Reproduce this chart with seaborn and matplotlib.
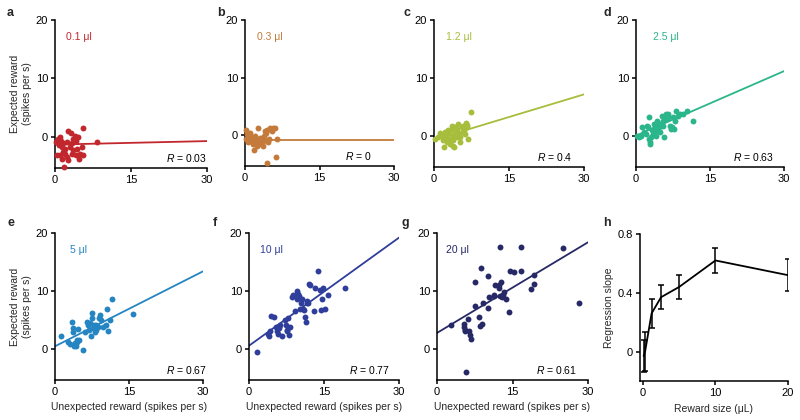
import numpy as np
import pandas as pd
import seaborn as sns
import matplotlib.pyplot as plt

# ---------------------------------------------------------------------------
# data
# ---------------------------------------------------------------------------
volumes = ["0.1", "0.3", "1.2", "2.5", "5", "10", "20"]
colors = ["#C1272D", "#C47A3A", "#A6BE3C", "#2AB58A", "#2585C2", "#2F3E9B", "#262966"]
r_values = ["0.03", "0", "0.4", "0.63", "0.67", "0.77", "0.61"]
intercepts = [-1.3, -0.8, -0.6, 0.1, 0.5, 0.6, 2.8]
slopes = [0.02, 0.0, 0.26, 0.37, 0.43, 0.62, 0.52]

a_x = [0.2, 0.5, 0.9, 1.1, 0.7, 1.3, 1.6, 2.0, 2.3, 2.6, 3.1, 3.0, 3.3, 3.6, 1.5, 2.0, 2.3, 0.9,
       1.8, 2.5, 3.9, 4.2, 4.6, 4.4, 5.0, 4.8, 5.5, 5.6, 5.3, 3.3, 3.6, 8.2, 0.3, 1.3, 4.2]
a_y = [-0.9, -0.3, 0.0, -0.6, -1.4, -1.7, -1.1, -2.0, -0.9, 1.1, 0.6, -1.7, -1.1, -0.3, -2.6, -2.9,
       -3.4, -3.1, -5.1, -3.9, 0.1, -0.6, 0.0, -2.0, -2.9, -3.7, 1.6, -3.1, -1.7, -2.9, -2.3, -0.9,
       -3.1, -3.7, -3.0]

b_x = [0.2, 0.5, 0.3, 0.7, 1.0, 1.1, 1.3, 1.5, 1.7, 1.8, 2.0, 2.2, 2.3, 2.5, 2.7, 2.9, 3.0, 3.2,
       3.4, 3.6, 3.7, 3.8, 4.0, 4.2, 4.4, 4.5, 4.7, 4.9, 5.0, 5.4, 5.7, 6.0, 6.2, 4.4, 6.4]
b_y = [1.0, 0.2, -0.7, -1.2, -0.1, 0.5, -1.0, -0.4, -1.5, -2.6, -0.1, -0.7, -1.2, -1.8, 1.3, -1.0,
       -0.4, -1.5, -1.2, -0.7, -1.8, -0.1, 0.7, 0.5, 1.0, -1.0, -1.2, -0.7, 1.3, 0.7, 1.3, 1.2,
       -3.8, -4.7, -0.7]

c_x = [0.1, 0.8, 1.1, 1.5, 1.7, 1.9, 2.1, 2.3, 2.5, 2.8, 3.0, 3.1, 3.3, 3.5, 3.7, 3.8, 3.9, 4.1,
       4.3, 4.5, 4.6, 4.8, 5.0, 5.1, 5.5, 5.7, 5.8, 5.9, 6.1, 6.3, 6.5, 6.6, 6.8, 7.3, 5.1, 3.8, 2.8]
c_y = [-0.5, -0.2, 0.5, 0.1, -0.7, -1.9, 0.7, -0.2, -1.0, 0.4, -0.5, -1.3, 1.0, 1.8, -0.7, -1.6,
       -1.9, 1.5, 0.7, -0.2, 1.2, 2.1, 0.4, -0.2, 1.5, 0.7, 1.8, 1.0, 0.4, 2.2, 2.0, 1.5, -0.5, 4.2,
       -1.0, 0.1, 1.1]

d_x = [0.3, 0.7, 1.1, 1.3, 1.6, 2.0, 2.3, 2.5, 2.7, 2.7, 2.8, 3.0, 3.2, 3.4, 3.6, 3.7, 3.9, 4.0,
       4.2, 4.3, 4.5, 4.7, 4.9, 5.0, 5.2, 5.4, 5.5, 5.7, 5.9, 6.1, 6.2, 6.5, 6.9, 7.0, 7.2, 7.4,
       7.7, 7.9, 8.2, 8.6, 8.9, 9.6, 10.4, 11.6, 2.8, 6.1, 6.5]
d_y = [0.1, -0.1, 0.1, 1.5, 0.7, 0.4, 1.8, 1.5, 3.3, -0.5, -1.0, -0.2, 1.0, 0.4, 1.3, 2.1, 0.7,
       0.1, 1.5, 2.7, 1.0, 2.1, 0.7, 1.8, 3.5, 2.7, 1.8, -0.2, 3.3, 3.8, 3.0, 3.8, 1.8, 1.3, 1.5,
       3.3, 1.3, 2.7, 4.4, 3.5, 3.8, 3.8, 4.4, 2.7, -1.3, 3.5, 3.3]

e_x = [1.3, 2.7, 3.0, 3.4, 3.6, 3.7, 4.0, 4.2, 4.4, 4.5, 4.7, 5.6, 6.1, 6.4, 6.7, 7.1, 7.2, 7.4,
       7.6, 7.8, 7.9, 8.1, 8.3, 8.4, 8.6, 8.8, 9.0, 9.2, 9.4, 9.8, 10.3, 10.6, 10.8, 11.1, 11.5,
       15.8, 6.9, 3.8, 4.9]
e_y = [2.3, 1.3, 0.9, 4.7, 3.6, 3.0, 1.0, 0.5, 1.3, 1.6, 3.4, -0.2, 3.0, 4.7, 4.2, 4.5, 2.3, 5.3,
       6.2, 3.6, 4.2, 3.0, 3.3, 4.2, 4.0, 3.8, 5.3, 5.9, 5.0, 3.9, 4.2, 7.0, 3.2, 5.0, 8.7, 6.0,
       3.3, 0.5, 1.5]

f_x = [1.6, 3.8, 4.0, 4.1, 4.3, 4.9, 5.3, 5.6, 5.8, 6.0, 6.1, 6.5, 7.1, 7.5, 7.6, 7.8, 8.0, 8.1,
       8.5, 8.8, 9.2, 9.4, 9.6, 9.8, 10.0, 10.2, 10.3, 10.5, 10.7, 11.0, 11.2, 11.4, 11.5, 11.6,
       12.0, 12.2, 13.0, 13.2, 13.8, 14.2, 14.3, 14.5, 14.7, 15.2, 15.8, 19.2, 11.8, 9.6, 7.4]
f_y = [-0.4, 2.7, 2.3, 3.1, 5.7, 5.6, 3.9, 3.1, 2.7, 3.6, 4.1, 2.3, 5.0, 3.1, 3.3, 5.3, 2.4, 3.9,
       8.9, 9.3, 6.5, 9.3, 10.1, 9.5, 9.1, 7.0, 7.9, 8.7, 7.0, 6.7, 5.6, 4.7, 7.9, 8.3, 11.3, 11.0,
       6.6, 10.6, 13.4, 10.2, 6.7, 8.7, 10.6, 6.9, 9.4, 10.6, 7.9, 8.7, 4.2]

g_x = [2.8, 5.3, 5.4, 5.5, 5.6, 5.8, 6.2, 6.4, 6.8, 7.6, 7.6, 8.3, 8.6, 8.7, 8.9, 9.1, 10.1, 10.1,
       10.3, 11.3, 11.4, 12.3, 12.3, 12.5, 12.6, 12.7, 13.0, 13.2, 13.3, 13.8, 14.4, 14.6, 15.2,
       16.6, 16.6, 18.7, 19.2, 19.3, 25.0, 28.3, 6.6, 11.6]
g_y = [4.2, 3.8, 4.4, 3.3, 3.1, -3.9, 5.2, 3.2, 1.7, 7.5, 11.5, 5.5, 4.0, 13.9, 4.4, 7.9, 7.1, 12.6,
       9.0, 9.4, 9.2, 10.6, 11.0, 9.2, 17.6, 11.6, 8.9, 9.3, 9.9, 8.6, 6.4, 13.4, 13.3, 17.6, 13.4,
       10.3, 11.3, 12.7, 17.4, 7.9, 2.5, 11.0]

scatter_x = [a_x, b_x, c_x, d_x, e_x, f_x, g_x]
scatter_y = [a_y, b_y, c_y, d_y, e_y, f_y, g_y]

# panel h: regression slope vs reward size
reward_size = [0.1, 0.3, 1.2, 2.5, 5, 10, 20]
reg_slope = [-0.03, 0.0, 0.26, 0.37, 0.44, 0.62, 0.52]
reg_sem = [0.11, 0.13, 0.10, 0.08, 0.08, 0.085, 0.11]

# ---------------------------------------------------------------------------
# style
# ---------------------------------------------------------------------------
sns.set_style("ticks")
plt.rcParams['font.family'] = ['Liberation Sans', 'DejaVu Sans']
plt.rcParams['mathtext.fontset'] = 'custom'
plt.rcParams['mathtext.it'] = 'Liberation Sans:italic'
plt.rcParams['mathtext.rm'] = 'Liberation Sans'
plt.rcParams['axes.linewidth'] = 1.1
plt.rcParams['xtick.major.width'] = 1.1
plt.rcParams['ytick.major.width'] = 1.1
plt.rcParams['xtick.major.size'] = 3
plt.rcParams['ytick.major.size'] = 3
plt.rcParams['xtick.color'] = 'black'
plt.rcParams['ytick.color'] = 'black'
plt.rcParams['axes.edgecolor'] = 'black'
FS = 7.5
TICK_FS = 8

W, H = 800, 420
fig = plt.figure(figsize=(8, 4.2), dpi=100)

# axes rectangles in pixels: left, top, width, height
rects = [(55, 20, 152, 148), (245, 20, 149, 146), (434, 20, 150, 147), (636, 20, 148, 147),
         (55, 233, 148, 147), (249, 233, 150, 147), (437, 233, 151, 147), (640, 234, 148, 147)]
letters = list("abcdefgh")
letter_pos = [(7, 13), (217, 13), (403, 13), (603, 13), (7, 223), (213, 223), (402, 223), (603, 223)]
label_x = [0.07, 0.08, 0.08, 0.115, 0.10, 0.07, 0.06]
r_x = [1.0, 0.85, 0.92, 0.93, 1.03, 0.94, 0.93]

axes = []
for (l, t, w, h) in rects:
    axes.append(fig.add_axes([l / W, 1 - (t + h) / H, w / W, h / H]))

for i in range(7):
    ax = axes[i]
    col = colors[i]
    df = pd.DataFrame({'x': scatter_x[i], 'y': scatter_y[i]})
    sns.scatterplot(data=df, x='x', y='y', color=col, s=18, linewidth=0, ax=ax, clip_on=False,
                    zorder=3)
    fit = pd.DataFrame({'x': [0, 30]})
    fit['y'] = intercepts[i] + slopes[i] * fit['x']
    sns.lineplot(data=fit, x='x', y='y', color=col, lw=1.3, ax=ax, zorder=2)
    ax.set_xlim(0, 30)
    ax.set_ylim(-5.3, 20)
    ax.set_xticks([0, 15, 30])
    ax.set_yticks([0, 10, 20])
    ax.text(label_x[i], 0.885, f"{volumes[i]} μl", color=col, fontsize=FS,
            transform=ax.transAxes, va='center', ha='left')
    ax.text(r_x[i], 0.07, f"$R$ = {r_values[i]}", color='black', fontsize=FS,
            transform=ax.transAxes, va='center', ha='right')
    ax.set_xlabel("Unexpected reward (spikes per s)" if i >= 4 else "", fontsize=FS, labelpad=4)
    ax.set_ylabel("Expected reward\n(spikes per s)" if i in (0, 4) else "", fontsize=FS,
                  labelpad=3)

# panel h
ax = axes[7]
dh = pd.DataFrame({'size': reward_size, 'slope': reg_slope})
sns.lineplot(data=dh, x='size', y='slope', color='black', lw=1.3, ax=ax)
ax.errorbar(reward_size, reg_slope, yerr=reg_sem, fmt='none', ecolor='black', elinewidth=1.1,
            capsize=2.5, capthick=1.1)
ax.set_xlim(-0.4, 20)
ax.set_ylim(-0.2, 0.8)
ax.set_xticks([0, 10, 20])
ax.set_yticks([0, 0.4, 0.8])
ax.set_yticklabels(["0", "0.4", "0.8"])
ax.set_xlabel("Reward size (μL)", fontsize=FS, labelpad=4)
ax.set_ylabel("Regression slope", fontsize=FS, labelpad=3)

for ax, letter, (lx, ly) in zip(axes, letters, letter_pos):
    sns.despine(ax=ax)
    ax.tick_params(labelsize=TICK_FS, pad=2)
    fig.text(lx / W, 1 - ly / H, letter, fontsize=9, fontweight='bold', va='center', ha='left')

fig.savefig("out.png", dpi=100)
